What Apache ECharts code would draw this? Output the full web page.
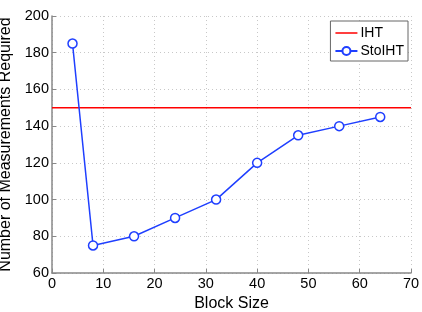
<!DOCTYPE html>
<html><head><meta charset="utf-8">
<script src="https://cdn.jsdelivr.net/npm/echarts@6/dist/echarts.min.js"></script>
<style>html,body{margin:0;padding:0;background:#fff}#c{width:422px;height:312px}</style>
</head><body><div id="c"></div>
<script>
const blockSizes = [4, 8, 16, 24, 32, 40, 48, 56, 64];
const stoIHT = [185, 75, 80, 90, 100, 120, 135, 140, 145];
const ihtX = [0, 70];
const ihtY = [150, 150];
const xTicks = [0, 10, 20, 30, 40, 50, 60, 70];
const yTicks = [60, 80, 100, 120, 140, 160, 180, 200];

const font = 'Liberation Sans, Arial, sans-serif';
const chart = echarts.init(document.getElementById('c'), null, {renderer: 'canvas'});
const gridStyle = {show: true, lineStyle: {color: '#c8c8c8', type: [1, 3], width: 1}};
const lineIcon = 'path://M0,0 L0.01,0 L0.01,0.01 Z M0,4.3 L22,4.3 L22,5.7 L0,5.7 Z M0,10 L0.01,10 L0.01,9.99 Z';
chart.setOption({
  animation: false,
  backgroundColor: '#fff',
  grid: {left: 52, right: 11, top: 16, bottom: 39, outerBoundsMode: 'none', containLabel: false},
  legend: {
    orient: 'vertical', right: 14, top: 21,
    backgroundColor: '#fff', borderColor: '#666', borderWidth: 1,
    padding: [5, 4, 3, 4], itemGap: 4, itemWidth: 22, itemHeight: 10,
    textStyle: {fontFamily: font, fontSize: 14, lineHeight: 14, color: '#000', padding: [0, 0, 0, -2]},
    data: [{name: 'IHT', icon: lineIcon}, 'StoIHT']
  },
  xAxis: {
    type: 'value', min: xTicks[0], max: xTicks[xTicks.length - 1], interval: 10,
    name: 'Block Size', nameLocation: 'middle', nameGap: 18,
    nameTextStyle: {fontFamily: font, fontSize: 16, color: '#000'},
    axisLine: {show: true, lineStyle: {color: '#888', width: 1.5}},
    axisTick: {show: true, inside: true, length: 4, lineStyle: {color: '#888'}},
    axisLabel: {fontFamily: font, fontSize: 14.5, color: '#000', margin: 3},
    splitLine: gridStyle
  },
  yAxis: {
    type: 'value', min: yTicks[0], max: yTicks[yTicks.length - 1], interval: 20,
    name: 'Number of Measurements Required', nameLocation: 'middle', nameGap: 28,
    nameTextStyle: {fontFamily: font, fontSize: 16, color: '#000'},
    axisLine: {show: true, lineStyle: {color: '#888', width: 1.5}},
    axisTick: {show: true, inside: true, length: 4, lineStyle: {color: '#888'}},
    axisLabel: {fontFamily: font, fontSize: 14.5, color: '#000', margin: 3},
    splitLine: gridStyle
  },
  series: [
    {
      name: 'IHT', type: 'line', symbol: 'none',
      data: ihtX.map((x, i) => [x, ihtY[i]]),
      lineStyle: {color: '#ff0000', width: 1.5}, itemStyle: {color: '#ff0000'}
    },
    {
      name: 'StoIHT', type: 'line', symbol: 'circle', symbolSize: 9, showAllSymbol: true,
      data: blockSizes.map((x, i) => [x, stoIHT[i]]),
      lineStyle: {color: '#1f3fff', width: 1.5},
      itemStyle: {color: '#fff', borderColor: '#1f3fff', borderWidth: 1.5}
    }
  ]
});
</script></body></html>
